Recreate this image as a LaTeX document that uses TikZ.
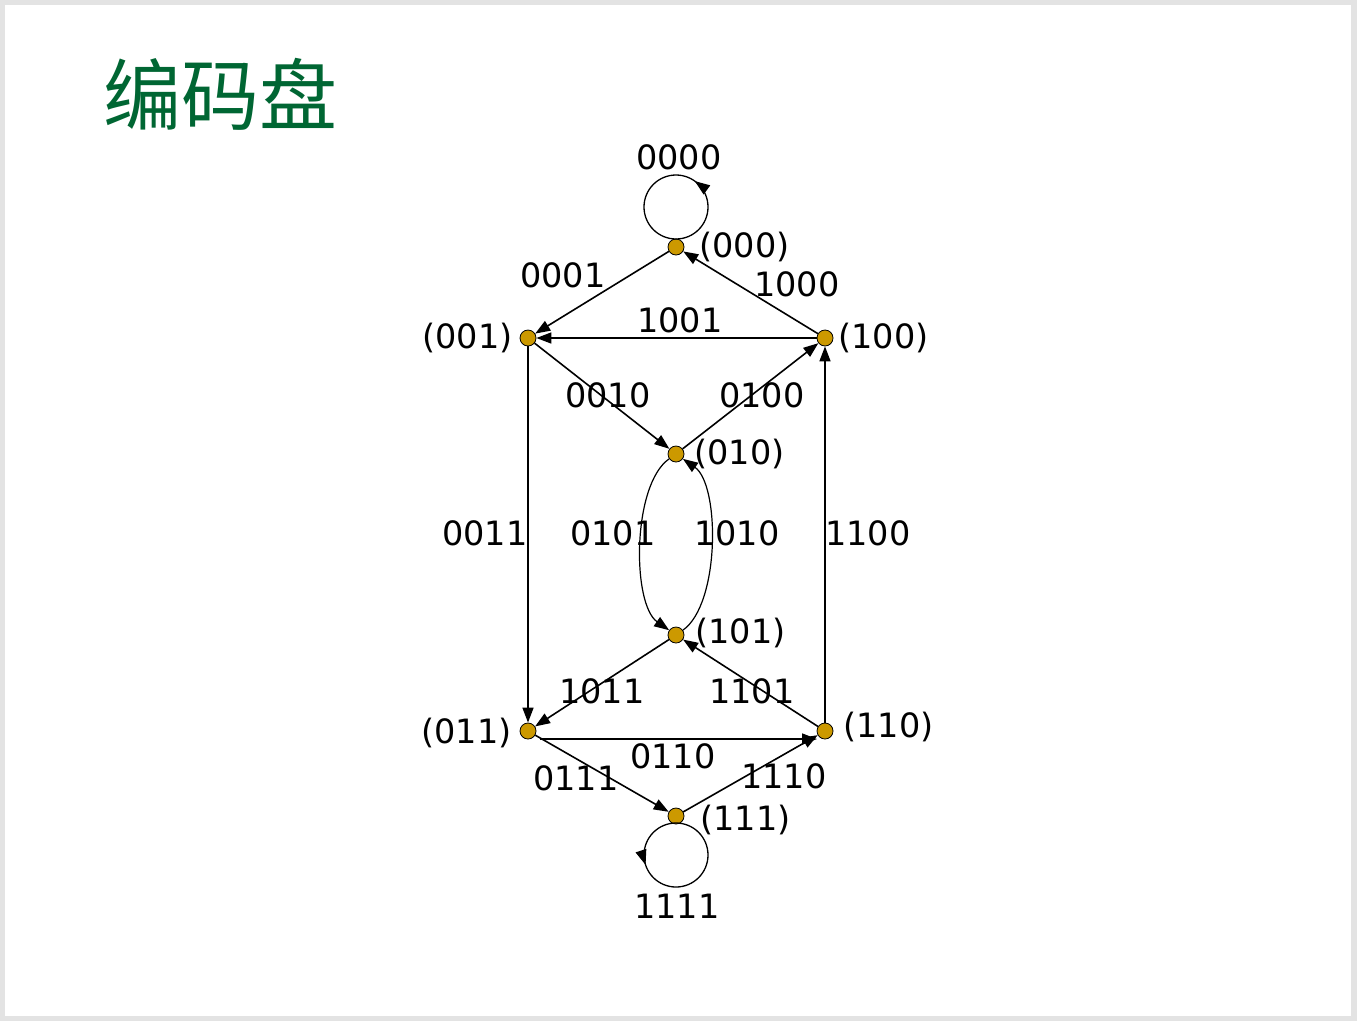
\documentclass[tikz,border=0pt]{standalone}
\usepackage{fontspec}
\setmainfont{DejaVu Sans}
\newfontfamily\cjk{Noto Sans CJK SC}
\usetikzlibrary{positioning,arrows.meta,decorations.markings}
\definecolor{dotgold}{RGB}{204,153,0}
\definecolor{titlegreen}{RGB}{0,102,51}

\begin{document}
\begin{tikzpicture}[x=1pt,y=1pt,
  state/.style={circle, draw=black, line width=0.8pt, fill=dotgold, minimum size=16pt, inner sep=0pt},
  txt/.style={inner sep=0pt, font=\fontsize{33.5}{40}\selectfont},
  link/.style={line width=1.6pt, -{Triangle[length=15pt,width=11pt]}},
  curved/.style={line width=1.2pt, -{Triangle[length=15pt,width=11pt]}},
  selfloop/.style={line width=1.3pt, postaction={decorate},
    decoration={markings, mark=at position #1 with {\arrow{Triangle[length=15pt,width=11pt]}}}}]

% slide frame
\useasboundingbox (0,0) rectangle (1357,-1021);
\fill[gray!22] (0,0) rectangle (1357,-1021);
\fill[white] (5,-5) rectangle (1351,-1016);

% title
\node[inner sep=0pt, anchor=west, text=titlegreen, font=\cjk\fontsize{78}{82}\selectfont] (title) at (103,-94) {编码盘};

% states
\node[state] (s000) at (676,-247) {};
\node[state] (s001) at (528,-338) {};
\node[state] (s100) at (825,-338) {};
\node[state] (s010) at (676,-454) {};
\node[state] (s101) at (676,-635) {};
\node[state] (s011) at (528,-731) {};
\node[state] (s110) at (825,-731) {};
\node[state] (s111) at (676,-816) {};

\node[txt, right=15pt of s000] (n000) {(000)};
\node[txt, left=7pt of s001] (n001) {(001)};
\node[txt, right=5pt of s100] (n100) {(100)};
\node[txt, right=10pt of s010] (n010) {(010)};
\node[txt, right=11pt of s101, yshift=2pt] (n101) {(101)};
\node[txt, left=8pt of s011, yshift=-2pt] (n011) {(011)};
\node[txt, right=10pt of s110, yshift=4pt] (n110) {(110)};
\node[txt, right=16pt of s111, yshift=-4pt] (n111) {(111)};

% transitions
\draw[link] (s000) -- (s001);
\draw[link] (s100) -- (s000);
\draw[link] (s100) -- (s001);
\draw[link] (s001) -- (s010);
\draw[link] (s010) -- (s100);
\draw[link] (s001) -- (s011);
\draw[link] (s110) -- (s100);
\draw[link] (s101) -- (s011);
\draw[link] (s110) -- (s101);
\draw[link] ([shift={(12pt,-8pt)}]s011.center) -- ([shift={(-8pt,-8pt)}]s110.center);
\draw[link] (s011) -- (s111);
\draw[link] (s111) -- (s110);
\draw[curved] (s010) to[out=215, in=145, looseness=0.68] (s101);
\draw[curved] (s101) to[out=35, in=-35, looseness=0.68] (s010);
\draw[selfloop=0.15] ([yshift=40pt]s000.center) circle (32);
\draw[selfloop=0.55] ([yshift=-39pt]s111.center) circle (32);

% codes
\node[txt] (c0000) at (679,-157) {0000};
\node[txt] (c0001) at (563,-275) {0001};
\node[txt] (c1000) at (797,-284) {1000};
\node[txt] (c1001) at (680,-320) {1001};
\node[txt] (c0010) at (608,-395) {0010};
\node[txt] (c0100) at (762,-395) {0100};
\node[txt] (c0011) at (485,-533) {0011};
\node[txt] (c0101) at (613,-533) {0101};
\node[txt] (c1010) at (737,-533) {1010};
\node[txt] (c1100) at (868,-533) {1100};
\node[txt] (c1011) at (602,-691) {1011};
\node[txt] (c1101) at (752,-691) {1101};
\node[txt] (c0110) at (673,-756) {0110};
\node[txt] (c0111) at (576,-778) {0111};
\node[txt] (c1110) at (784,-776) {1110};
\node[txt] (c1111) at (677,-906) {1111};
\end{tikzpicture}
\end{document}
